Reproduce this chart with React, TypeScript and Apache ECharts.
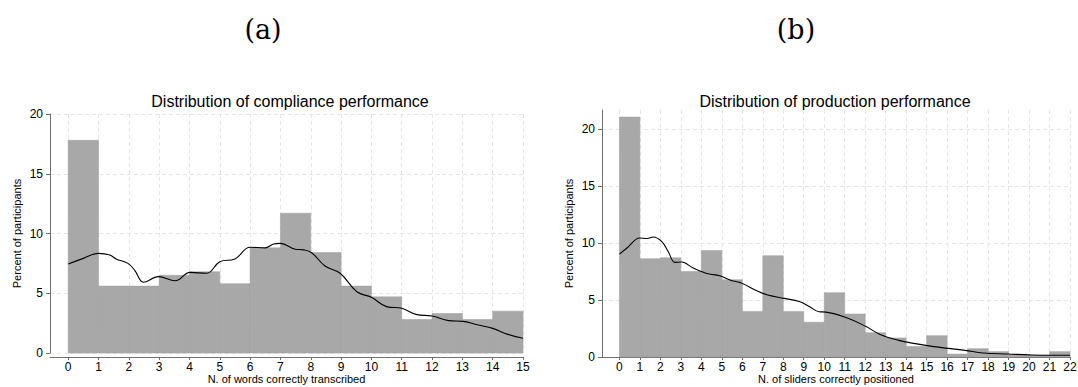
import React, { useEffect, useRef } from "react";
import * as echarts from "echarts";

// ---- Data ----
const complianceBins = [0, 1, 2, 3, 4, 5, 6, 7, 8, 9, 10, 11, 12, 13, 14];
const compliancePct = [17.8, 5.6, 5.6, 6.5, 6.8, 5.8, 8.8, 11.7, 8.4, 5.6, 4.7, 2.8, 3.3, 2.8, 3.5];
const complianceKdeX = [0, 0.5, 1.0, 1.37, 1.58, 1.97, 2.2, 2.48, 2.98, 3.53, 4.02, 4.57, 5.0, 5.5, 6.0, 6.5, 6.77, 7.0, 7.49, 7.76, 8.03, 8.47, 8.97, 9.52, 10.0, 10.5, 11.0, 11.5, 12.0, 12.55, 13.03, 13.53, 14.0, 14.5, 15.0];
const complianceKdeY = [7.45, 7.92, 8.34, 8.2, 7.87, 7.5, 6.9, 5.92, 6.39, 6.05, 6.75, 6.67, 7.64, 7.87, 8.85, 8.8, 9.12, 9.17, 8.68, 8.63, 8.39, 7.28, 6.67, 5.13, 4.66, 3.88, 3.74, 3.21, 3.1, 2.71, 2.65, 2.34, 2.06, 1.56, 1.23];

const productionBins = [0, 1, 2, 3, 4, 5, 6, 7, 8, 9, 10, 11, 12, 13, 14, 15, 16, 17, 18, 19, 20, 21];
const productionPct = [21.05, 8.62, 8.7, 7.5, 9.35, 6.78, 4.0, 8.89, 4.0, 3.05, 5.64, 3.77, 2.13, 1.67, 0.93, 1.87, 0.26, 0.73, 0.47, 0.2, 0.15, 0.47];
const productionKdeX = [0, 0.37, 0.99, 1.34, 1.66, 2.06, 2.38, 2.71, 3.03, 3.6, 4.0, 4.33, 4.9, 5.46, 5.95, 6.76, 7.24, 8.05, 8.78, 9.27, 9.75, 10.08, 11.13, 12.02, 12.75, 13.64, 14.45, 15.26, 16.07, 16.88, 17.77, 18.99, 20.12, 21.1, 22];
const productionKdeY = [9.03, 9.56, 10.44, 10.4, 10.53, 10.14, 9.26, 8.3, 8.33, 7.8, 7.51, 7.3, 7.13, 6.72, 6.49, 5.76, 5.44, 5.14, 4.87, 4.44, 3.97, 3.94, 3.42, 2.69, 1.96, 1.46, 1.17, 0.93, 0.76, 0.58, 0.35, 0.26, 0.18, 0.15, 0.15];

const yTicks = [0, 5, 10, 15, 20];
const leftXTicks = [0, 1, 2, 3, 4, 5, 6, 7, 8, 9, 10, 11, 12, 13, 14, 15];
const rightXTicks = [0, 1, 2, 3, 4, 5, 6, 7, 8, 9, 10, 11, 12, 13, 14, 15, 16, 17, 18, 19, 20, 21, 22];

const FONT = "'Liberation Sans', Arial, Helvetica, sans-serif";
const SERIF = "'DejaVu Serif', 'Liberation Serif', serif";
const AXIS_COLOR = "#707070";
const GRID_COLOR = "#e6e6e6";
const BAR_COLOR = "#a8a8a8";

function histRender(params: any, api: any) {
  const x0 = api.value(0);
  const v = api.value(1);
  const p1 = api.coord([x0, v]);
  const p2 = api.coord([x0 + 1, 0]);
  return {
    type: "rect",
    shape: { x: p1[0], y: p1[1], width: p2[0] - p1[0], height: p2[1] - p1[1] },
    style: { fill: BAR_COLOR, stroke: "#9e9e9e", lineWidth: 0.5 },
  };
}

function xAxisOpt(gridIndex: number, min: number, max: number, ticks: number[], name: string, split: number) {
  return {
    type: "value",
    gridIndex,
    min,
    max,
    splitNumber: split,
    offset: gridIndex === 0 ? 4 : 0,
    name,
    nameLocation: "middle",
    nameGap: 16,
    nameMoveOverlap: false,
    nameTextStyle: { fontFamily: FONT, fontSize: 11, color: "#000" },
    axisLine: { show: true, onZero: false, lineStyle: { color: AXIS_COLOR, width: 1 } },
    axisTick: { show: true, length: 3, customValues: ticks, lineStyle: { color: AXIS_COLOR } },
    axisLabel: { customValues: ticks, fontFamily: FONT, fontSize: 12, color: "#000", margin: 4 },
    splitLine: { show: true, lineStyle: { color: GRID_COLOR, type: [4, 3], width: 1 } },
  };
}

function yAxisOpt(gridIndex: number, min: number, max: number) {
  return {
    type: "value",
    gridIndex,
    min,
    max,
    splitNumber: 4,
    name: "Percent of participants",
    nameLocation: "middle",
    nameGap: 28,
    nameTextStyle: { fontFamily: FONT, fontSize: 11, color: "#000" },
    axisLine: { show: true, onZero: false, lineStyle: { color: AXIS_COLOR, width: 1 } },
    axisTick: { show: true, length: 4, customValues: yTicks, lineStyle: { color: AXIS_COLOR } },
    axisLabel: { customValues: yTicks, fontFamily: FONT, fontSize: 12, color: "#000", margin: 7 },
    splitLine: { show: true, lineStyle: { color: GRID_COLOR, type: [4, 3], width: 1 } },
  };
}

export default function App() {
  const ref = useRef<HTMLDivElement>(null);
  useEffect(() => {
    if (!ref.current) return;
    const chart = echarts.init(ref.current, undefined, { renderer: "svg" });
    const leftBars = complianceBins.map((b, i) => [b, compliancePct[i]]);
    const rightBars = productionBins.map((b, i) => [b, productionPct[i]]);
    const leftLine = complianceKdeX.map((x, i) => [x, complianceKdeY[i]]);
    const rightLine = productionKdeX.map((x, i) => [x, productionKdeY[i]]);

    chart.setOption({
      animation: false,
      backgroundColor: "#fff",
      graphic: [
        { type: "text", x: 263, y: 29, style: { text: "(a)", textAlign: "center", textVerticalAlign: "middle", fontFamily: SERIF, fontSize: 27, fill: "#000" } },
        { type: "text", x: 796, y: 29, style: { text: "(b)", textAlign: "center", textVerticalAlign: "middle", fontFamily: SERIF, fontSize: 27, fill: "#000" } },
        { type: "text", x: 290, y: 101, style: { text: "Distribution of compliance performance", textAlign: "center", textVerticalAlign: "middle", fontFamily: FONT, fontSize: 16, fill: "#000" } },
        { type: "text", x: 835, y: 101, style: { text: "Distribution of production performance", textAlign: "center", textVerticalAlign: "middle", fontFamily: FONT, fontSize: 16, fill: "#000" } },
      ],
      grid: [
        { left: 50, right: 555, top: 114, bottom: 34, outerBoundsMode: "none", containLabel: false },
        { left: 602, right: 8, top: 110, bottom: 30, outerBoundsMode: "none", containLabel: false },
      ],
      xAxis: [
        xAxisOpt(0, -0.6, 15, leftXTicks, "N. of words correctly transcribed", 16),
        xAxisOpt(1, -0.85, 22, rightXTicks, "N. of sliders correctly positioned", 23),
      ],
      yAxis: [yAxisOpt(0, 0, 20), yAxisOpt(1, 0, 21.67)],
      series: [
        { type: "custom", xAxisIndex: 0, yAxisIndex: 0, renderItem: histRender, data: leftBars, encode: { x: 0, y: 1 }, z: 2 },
        { type: "line", xAxisIndex: 0, yAxisIndex: 0, data: leftLine, smooth: 0.4, showSymbol: false, symbol: "none", lineStyle: { color: "#000", width: 1.1 }, z: 3 },
        { type: "custom", xAxisIndex: 1, yAxisIndex: 1, renderItem: histRender, data: rightBars, encode: { x: 0, y: 1 }, z: 2 },
        { type: "line", xAxisIndex: 1, yAxisIndex: 1, data: rightLine, smooth: 0.4, showSymbol: false, symbol: "none", lineStyle: { color: "#000", width: 1.1 }, z: 3 },
      ],
    });
    return () => chart.dispose();
  }, []);
  return <div ref={ref} style={{ position: "absolute", left: 0, top: 0, width: 1078, height: 387 }} />;
}
